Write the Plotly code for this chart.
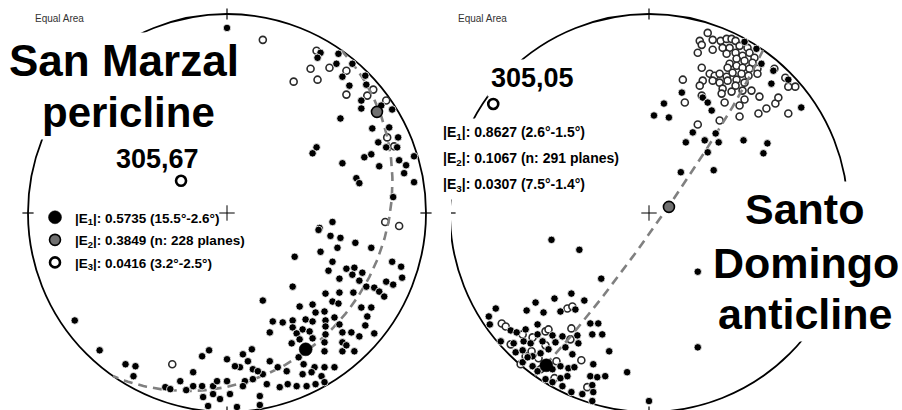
import numpy as np
import plotly.graph_objects as go

W, H = 902, 410
K = 1.99            # pixels per net unit (primitive radius = 100 units)
C1 = (227, 213)     # pixel centre of left net
C2 = (649, 213)     # pixel centre of right net

BOLD = "Liberation Sans, Arial, sans-serif"
PLAIN = "Liberation Sans, Arial, sans-serif"

# ---------------- data ----------------
# eigenvectors (trend, plunge) in degrees
sm_eig = {"E1": (150, 22), "E2": (56, 10), "E3": (305, 67)}
sd_eig = {"E1": (214, 8.5), "E2": (73, 81.5), "E3": (305, 5)}
sm_pole_label = "305,67"
sd_pole_label = "305,05"
sm_legend = ["|E<sub>1</sub>|: 0.5735 (15.5°-2.6°)",
             "|E<sub>2</sub>|: 0.3849 (n: 228 planes)",
             "|E<sub>3</sub>|: 0.0416 (3.2°-2.5°)"]
sd_legend = ["|E<sub>1</sub>|: 0.8627 (2.6°-1.5°)",
             "|E<sub>2</sub>|: 0.1067 (n: 291 planes)",
             "|E<sub>3</sub>|: 0.0307 (7.5°-1.4°)"]

# poles projected (equal-area, x = east, y = north, radius 100)
sm_black = [
    (0, 93), (47, 80.5), (56, 80), (55, 75), (63, 75), (58, 68.5), (69.5, 69), (70, 64.5),
    (61.5, 64), (67.5, 56.5), (77.5, 54), (83, 52), (67.5, 52.5), (57, 47.5), (73, 42.5),
    (81.5, 43), (86, 38), (76, 35.5), (80, 33), (85.5, 33), (94, 28.5), (86.5, 26.5), (90, 24),
    (72.5, 29.5), (69, 28), (76.5, 23.5), (45, 33), (43, 30), (58, 25), (65, 17.5), (66.5, 15),
    (89, 20), (94, 15.5), (83.5, 8), (45.5, 78), (53, -4.5), (46.5, -7.5),
    (46, -8.5), (52, -11.5), (57, -12.5), (64.5, -15), (72.5, -17.5), (55.5, -17.5), (47, -19.5),
    (34, -22), (53, -24.5), (83, -24.5), (87.5, -27), (88, -32.5), (51, -29), (60, -28),
    (64, -27.5), (63, -31), (68, -30), (56.5, -33), (66.5, -34), (80, -34.5), (83.5, -36),
    (33, -37), (70, -37), (74, -37.5), (76.5, -39.5), (79, -42), (63.5, -40), (49.5, -40.5),
    (56.5, -40), (53, -44.5), (18, -44), (56, -45.5), (36.5, -47), (43, -46), (67.5, -47.5),
    (72.5, -47.5), (49, -49.5), (44.5, -50), (70.5, -52), (54, -52.5), (39.5, -53.5), (33, -54),
    (43, -54.5), (49.5, -54), (23, -54.5), (28, -55), (56.5, -56), (69.5, -56.5), (33, -57.5),
    (38, -58.5), (41.5, -59.5), (21.5, -60), (35, -60.5), (58, -60), (62.5, -60), (66.5, -62),
    (74, -60.5), (49.5, -61), (43, -63), (49, -65), (32.5, -65.5), (58, -65), (58, -69.5),
    (64, -69.5), (49, -69.5), (60, -66.5), (36, -72.5), (38.5, -76), (44, -77.5), (49, -77.5),
    (54, -77.5), (42.5, -80), (47.5, -82), (38, -81), (49, -85), (44.5, -86), (40, -87),
    (35, -87), (30.5, -86), (26.5, -87.5), (20, -86), (30, -79.5), (21.5, -74.5), (25.5, -77.5),
    (18, -81), (12.5, -68.5), (8, -71), (10.5, -74.5), (6.5, -77.5), (0, -73.5), (4, -77),
    (13, -78.5), (15.5, -79.5), (0, -84.5), (9, -84.5), (8, -87), (13, -83.5), (-9, -69),
    (-12.5, -72), (-17, -80), (-17, -87), (-12.5, -87), (-7, -87), (-5, -84.5), (-23.5, -84.5),
    (-31, -87.5), (-28.5, -88.5), (-12, -92.5), (-7, -91), (1.5, -91), (-3.5, -93.5),
    (-9.5, -97), (5, -97.5), (16.5, -92), (16.5, -96.5), (-76.5, -54), (-64, -69), (-51, -76),
    (-46, -77), (-47, -82), (-20.5, -89), (36.5, -63.5), (49.5, -57),
]
sm_open = [
    (18, 87), (45, 81.5), (51.5, 73), (42, 72.5), (60, 71.5), (45.5, 67), (33.5, 66),
    (73.5, 62), (60, 59.5), (70.5, 59), (80.5, 38), (86.5, -6.5), (-27.5, -76), (80, 56.5),
    (84, 33.5), (79.5, -4.5),
]
sd_black = [
    (48, 86), (54, 82.5), (56.5, 75), (62.5, 71.5), (70, 67), (61.5, 65), (76.5, 53),
    (16.5, 60.5), (27, 58), (29.5, 55.5), (31.5, 51.5), (7.5, 55), (2.5, 49), (10, 48),
    (22, 40.5), (33.5, 40), (18.5, 35.5), (28, 36.5), (35, 35.5), (47.5, 36.5), (59.5, 35),
    (57.5, 30), (29.5, 30.5), (16, 20.5), (32.5, 21.5), (-49, -13.5), (-35, -18.5), (-24, -33),
    (24.5, -29.5), (24.5, -67.5), (0, -94.5),
    (-39, -40.5), (-47.5, -43), (-57, -45), (-32.5, -44), (-77, -48), (-61.5, -49), (-53, -50),
    (-44.5, -49.5), (-37, -48.5), (-80.5, -52), (-80, -56), (-29.5, -55.5), (-25.5, -55.5),
    (-69.5, -59), (-66.5, -60), (-62, -58.5), (-56, -56), (-56, -61), (-48.5, -61.5),
    (-43.5, -62), (-36, -61.5), (-28.5, -61), (-23.5, -61), (-74.5, -64.5), (-68, -65.5),
    (-63, -64.5), (-59.5, -65.5), (-53.5, -64.5), (-47, -65), (-35.5, -65.5), (-67, -70),
    (-63.5, -69), (-58.5, -72), (-54.5, -70.5), (-50.5, -68.5), (-42, -67.5), (-38.5, -71),
    (-20, -69.5), (-63.5, -75), (-58.5, -77), (-56, -79.5), (-48.5, -78.5), (-44.5, -77),
    (-40.5, -78), (-37.5, -77.5), (-28, -76), (-52, -83.5), (-44.5, -83), (-41, -82),
    (-29.5, -82), (-26, -82.5), (-22, -82), (-11, -80), (-48.5, -85), (-43.5, -87), (-39, -90),
    (-33.5, -91), (-28.5, -86.5), (-28, -90), (-28.5, -94.5), (-61, -72.5),
]
sd_open = [
    (29.5, 90.5), (25.5, 86.5), (26.5, 84.5), (32, 87), (36, 86.5), (39, 87.5), (41.5, 87.5),
    (43.5, 86.5), (24.5, 80.5), (32, 82), (37, 83), (40.5, 83), (45.5, 84), (49.5, 83),
    (39, 80), (43.5, 80.5), (47, 79), (50.5, 80.5), (53, 78), (44, 77.5), (48, 76.5),
    (52, 75.5), (40.5, 75), (26.5, 73), (39.5, 73), (44, 74), (47, 73), (50.5, 72.5),
    (54.5, 72.5), (42, 70.5), (46.5, 70), (50, 69), (54.5, 70), (30.5, 70), (33, 69),
    (35.5, 70), (39, 68.5), (27, 66.5), (32, 66.5), (35.5, 65.5), (39.5, 66.5), (44, 67),
    (48, 65.5), (17, 67), (25.5, 64), (37, 62.5), (43.5, 64), (47, 61.5), (41.5, 61),
    (51.5, 61.5), (55.5, 58.5), (26.5, 59), (36.5, 60), (18, 55.5), (38, 55.5), (48, 57),
    (45.5, 54), (59, 52.5), (63.5, 55), (65, 58), (55, 50), (70, 50), (45.5, 48.5),
    (35.5, 46.5), (24.5, 44.5), (63, 72.5), (68.5, 68), (73.5, 63.5), (70, 63.5),
    (-41, -48), (-38.5, -47), (-74, -55.5), (-72, -57), (-52, -59.5), (-50.5, -58.5),
    (-39, -58), (-39.5, -63.5), (-62, -72), (-52, -66.5), (-59, -69.5), (-55.5, -73),
    (-34, -74), (-47.5, -83), (-31, -87.5), (-63.5, -61), (-58.5, -62.5), (-69.5, -66),
    (-64.5, -76), (-54.5, -78.5), (-46.5, -74.5),
]


# ---------------- helpers ----------------
def proj(trend, plunge):
    """Lambert equal-area, lower hemisphere, primitive radius 100."""
    t = np.radians(np.asarray(trend, float))
    p = np.radians(np.asarray(plunge, float))
    r = 100 * np.sqrt(2) * np.sin((np.pi / 2 - p) / 2)
    return r * np.sin(t), r * np.cos(t)


def great_circle(pole):
    tr, pl = pole
    dd = np.radians(tr + 180)
    dip = np.radians(90 - pl)
    strike = dd - np.pi / 2
    s = np.array([np.sin(strike), np.cos(strike), 0.0])
    d = np.array([np.sin(dd) * np.cos(dip), np.cos(dd) * np.cos(dip), np.sin(dip)])
    phi = np.linspace(0, np.pi, 181)
    v = np.outer(np.cos(phi), s) + np.outer(np.sin(phi), d)
    plunge = np.degrees(np.arcsin(np.clip(v[:, 2], -1, 1)))
    trend = np.degrees(np.arctan2(v[:, 0], v[:, 1]))
    return proj(trend, plunge)


def xs(pts):
    return [p[0] for p in pts]


def ys(pts):
    return [p[1] for p in pts]


fig = go.Figure()


def add_net(xa, ya, black, opn, eig, legend_names, showleg):
    # open poles
    fig.add_trace(go.Scatter(x=xs(opn), y=ys(opn), xaxis=xa, yaxis=ya, mode="markers",
                             marker=dict(size=7, color="white", line=dict(color="#2a2a2a", width=1.6)),
                             showlegend=False, hoverinfo="skip"))
    # girdle great circle (pole = E3)
    gx, gy = great_circle(eig["E3"])
    fig.add_trace(go.Scatter(x=gx, y=gy, xaxis=xa, yaxis=ya, mode="lines",
                             line=dict(color="#808080", width=2.6, dash="9px,6px"),
                             showlegend=False, hoverinfo="skip"))
    # filled poles
    fig.add_trace(go.Scatter(x=xs(black), y=ys(black), xaxis=xa, yaxis=ya, mode="markers",
                             marker=dict(size=7.5, color="black", line=dict(color="white", width=0.8)),
                             showlegend=False, hoverinfo="skip"))
    # centre cross and cardinal ticks
    fig.add_trace(go.Scatter(x=[0], y=[0], xaxis=xa, yaxis=ya, mode="markers",
                             marker=dict(symbol="cross-thin", size=11, line=dict(color="black", width=1)),
                             showlegend=False, hoverinfo="skip"))
    fig.add_trace(go.Scatter(x=[0, 0], y=[100, -100], xaxis=xa, yaxis=ya, mode="markers",
                             marker=dict(symbol="line-ns", size=8, line=dict(color="black", width=1.2)),
                             showlegend=False, hoverinfo="skip"))
    fig.add_trace(go.Scatter(x=[-100, 100], y=[0, 0], xaxis=xa, yaxis=ya, mode="markers",
                             marker=dict(symbol="line-ew", size=8, line=dict(color="black", width=1.2)),
                             showlegend=False, hoverinfo="skip"))
    # eigenvectors
    styles = [
        dict(size=13, color="black", line=dict(color="black", width=0.5)),
        dict(size=11, color="#707070", line=dict(color="black", width=1.6)),
        dict(size=10, color="white", line=dict(color="black", width=2.6)),
    ]
    for i, (key, st, name) in enumerate(zip(["E1", "E2", "E3"], styles, legend_names)):
        ex, ey = proj(eig[key][0], eig[key][1])
        fig.add_trace(go.Scatter(x=[float(ex)], y=[float(ey)], xaxis=xa, yaxis=ya, mode="markers",
                                 marker=st, name="<b>%s</b>" % name, showlegend=showleg,
                                 legendgroup="%s%d" % (xa, i), hoverinfo="skip"))


add_net("x", "y", sm_black, sm_open, sm_eig, sm_legend, True)
add_net("x2", "y2", sd_black, sd_open, sd_eig, sd_legend, False)

shapes = []
for xr, yr in (("x", "y"), ("x2", "y2")):
    shapes.append(dict(type="circle", xref=xr, yref=yr, x0=-100, x1=100, y0=-100, y1=100,
                       line=dict(color="black", width=1.8), layer="below"))


def ann(text, px, py, size, xanchor="center", bg=None, family=BOLD, bold=True, bp=1, color="black"):
    return dict(text=("<b>%s</b>" % text) if bold else text, x=px / W, y=1 - py / H,
                xref="paper", yref="paper", xanchor=xanchor, yanchor="middle", showarrow=False,
                font=dict(family=family, size=size, color=color),
                bgcolor=bg if bg else "rgba(0,0,0,0)", borderpad=bp)


annotations = [
    ann("Equal Area", 33, 18, 10, xanchor="left", family=PLAIN, bold=False, color="#333"),
    ann("Equal Area", 456, 18, 10, xanchor="left", family=PLAIN, bold=False, color="#333"),
    ann("San Marzal", 124, 60, 44, bg="white", bp=3),
    ann("pericline", 128, 112, 42, bg="white", bp=3),
    ann(sm_pole_label, 157, 159, 27),
    ann(sd_pole_label, 532, 78, 27, bg="white", bp=3),
    ann("Santo", 804, 209, 43, bg="white", bp=3),
    ann("anticline", 805, 314, 43, bg="white", bp=3),
    ann("Domingo", 806, 263, 43, bg="white", bp=3),
]
for i, t in enumerate(sd_legend):
    annotations.append(ann(t, 437, 133 + 26 * i, 14, xanchor="left", bg="white", bp=5))

fig.update_layout(
    width=W, height=H, margin=dict(l=0, r=0, t=0, b=0),
    paper_bgcolor="white", plot_bgcolor="white",
    xaxis=dict(domain=[0, 451 / W], range=[(0 - C1[0]) / K, (451 - C1[0]) / K], visible=False),
    yaxis=dict(domain=[0, 1], range=[(C1[1] - H) / K, C1[1] / K], visible=False),
    xaxis2=dict(domain=[451 / W, 1], range=[(451 - C2[0]) / K, (W - C2[0]) / K], visible=False),
    yaxis2=dict(domain=[0, 1], range=[(C2[1] - H) / K, C2[1] / K], visible=False, anchor="x2"),
    shapes=shapes, annotations=annotations,
    showlegend=True,
    legend=dict(x=35 / W, y=1 - 202 / H, xanchor="left", yanchor="top", bgcolor="rgba(0,0,0,0)",
                font=dict(family=BOLD, size=13.5, color="black"), itemwidth=30,
                tracegroupgap=2, traceorder="grouped"),
)

fig.write_html("out.html", config={"displayModeBar": False, "staticPlot": True},
               post_script="document.body.style.margin='0';")
